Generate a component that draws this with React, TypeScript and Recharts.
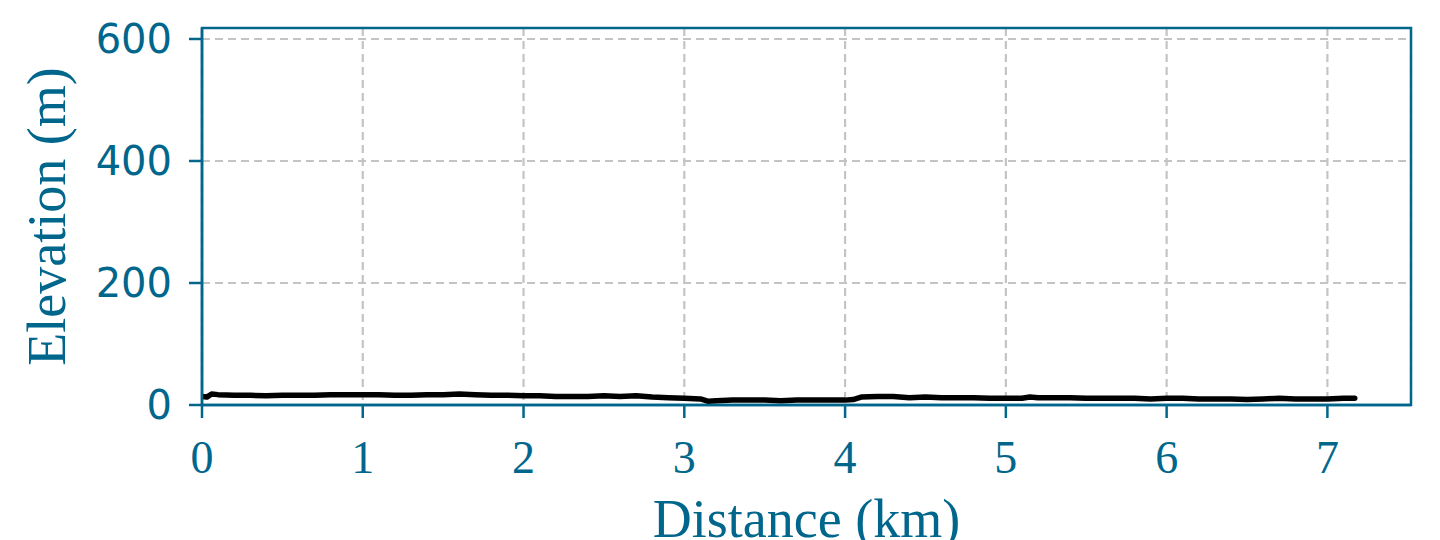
import React from 'react';
import { LineChart, Line, XAxis, YAxis, CartesianGrid, ReferenceArea } from 'recharts';

const distanceKm: number[] = [
  0, 0.03, 0.06, 0.1, 0.2, 0.3, 0.4, 0.5, 0.6, 0.7, 0.8, 0.9, 1.0, 1.1, 1.2, 1.3, 1.4, 1.5, 1.6, 1.7,
  1.8, 1.9, 2.0, 2.1, 2.2, 2.3, 2.4, 2.5, 2.6, 2.7, 2.8, 2.9, 3.0, 3.1, 3.15, 3.2, 3.3, 3.4, 3.5, 3.6,
  3.7, 3.8, 3.9, 4.0, 4.05, 4.1, 4.2, 4.3, 4.4, 4.5, 4.6, 4.7, 4.8, 4.9, 5.0, 5.1, 5.15, 5.2, 5.3, 5.4,
  5.5, 5.6, 5.7, 5.8, 5.9, 6.0, 6.1, 6.2, 6.3, 6.4, 6.5, 6.6, 6.7, 6.8, 6.9, 7.0, 7.1, 7.17,
];
const elevationM: number[] = [
  14, 13, 18, 17, 16, 16, 15, 16, 16, 16, 17, 17, 17, 17, 16, 16, 17, 17, 18, 17,
  16, 16, 15, 15, 14, 14, 14, 15, 14, 15, 13, 12, 11, 10, 6, 7, 8, 8, 8, 7,
  8, 8, 8, 8, 9, 13, 14, 14, 12, 13, 12, 12, 12, 11, 11, 11, 13, 12, 12, 12,
  11, 11, 11, 11, 10, 11, 11, 10, 10, 10, 9, 10, 11, 10, 10, 10, 11, 11,
];
const xTicks: number[] = [0, 1, 2, 3, 4, 5, 6, 7];
const yTicks: number[] = [0, 200, 400, 600];
const xDomain: [number, number] = [0, 7.52];
const yDomain: [number, number] = [0, 618];
const xLabel = 'Distance (km)';
const yLabel = 'Elevation (m)';

const data = distanceKm.map((d, i) => ({ d, e: elevationM[i] }));

const TEAL = '#00668c';
const SERIF = '"Liberation Serif", "DejaVu Serif", serif';
const SANS = '"DejaVu Sans", sans-serif';

export default function App() {
  return (
    <div style={{ position: 'absolute', left: 0, top: 0, width: 1440, height: 540, background: '#fff' }}>
      <LineChart
        width={1440}
        height={540}
        data={data}
        margin={{ top: 28, right: 29, bottom: 0, left: 0 }}
      >
        <CartesianGrid
          xAxisId="main"
          yAxisId="main"
          stroke="#c4c4c4"
          strokeWidth={2.2}
          strokeDasharray="8 5"
        />
        <XAxis
          xAxisId="main"
          type="number"
          dataKey="d"
          domain={xDomain}
          ticks={xTicks}
          allowDataOverflow
          height={135}
          stroke={TEAL}
          strokeWidth={2.5}
          tickSize={13}
          tickMargin={22}
          tickLine={{ stroke: TEAL, strokeWidth: 2.5 }}
          tick={{ fill: TEAL, fontSize: 46, fontFamily: SERIF }}
          label={{
            value: xLabel,
            position: 'insideBottom',
            offset: 3,
            style: { fill: TEAL, fontSize: 54, fontFamily: SERIF },
          }}
        />
        <YAxis
          yAxisId="main"
          type="number"
          domain={yDomain}
          ticks={yTicks}
          allowDataOverflow
          width={202}
          stroke={TEAL}
          strokeWidth={2.5}
          tickSize={13}
          tickMargin={17}
          tickLine={{ stroke: TEAL, strokeWidth: 2.5 }}
          tick={{ fill: TEAL, fontSize: 40, fontFamily: SANS }}
          label={{
            value: yLabel,
            angle: -90,
            position: 'insideLeft',
            offset: 46,
            style: { fill: TEAL, fontSize: 54, fontFamily: SERIF, textAnchor: 'middle' },
          }}
        />
        <ReferenceArea
          xAxisId="main"
          yAxisId="main"
          x1={xDomain[0]}
          x2={xDomain[1]}
          y1={yDomain[0]}
          y2={yDomain[1]}
          fill="none"
          fillOpacity={0}
          stroke={TEAL}
          strokeWidth={2.5}
          ifOverflow="visible"
        />
        <Line
          xAxisId="main"
          yAxisId="main"
          type="linear"
          dataKey="e"
          stroke="#000"
          strokeWidth={5.5}
          strokeLinejoin="round"
          strokeLinecap="round"
          dot={false}
          isAnimationActive={false}
        />
      </LineChart>
    </div>
  );
}
